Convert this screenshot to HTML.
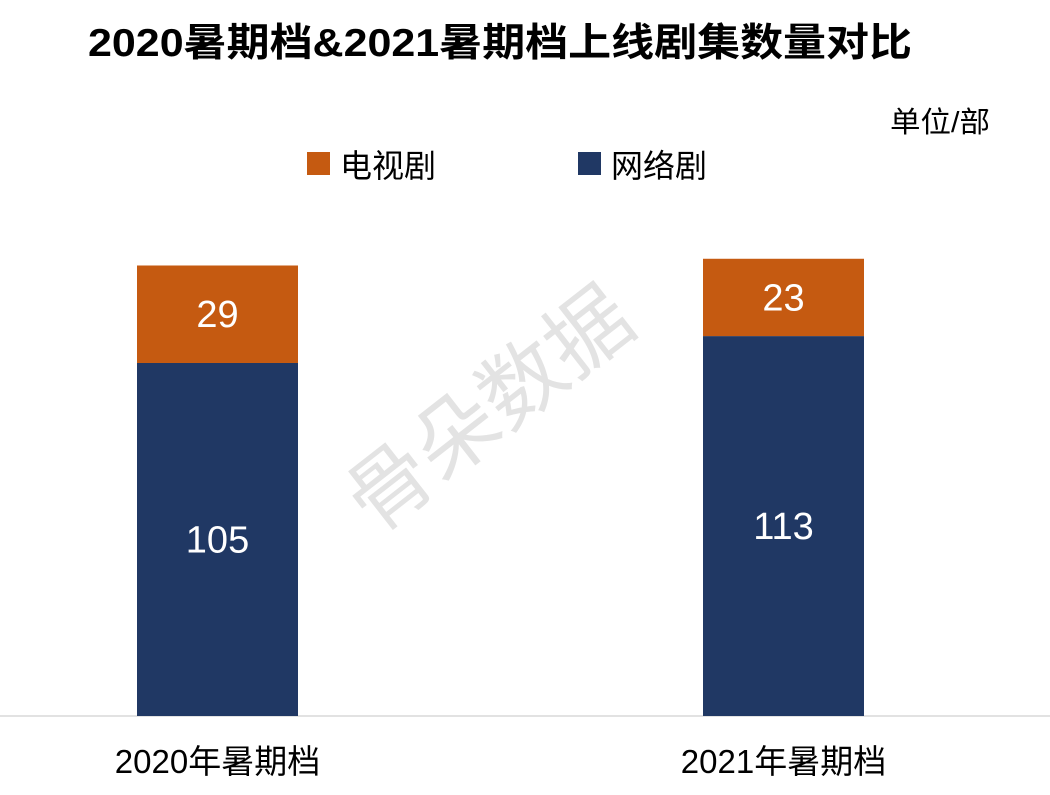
<!DOCTYPE html>
<html><head><meta charset="utf-8"><style>
body{margin:0;background:#fff}
svg{display:block;font-family:"Liberation Sans","Noto Sans CJK SC",sans-serif}
</style></head><body>
<svg id="chart" width="1050" height="795" viewBox="0 0 1050 795">
<rect width="1050" height="795" fill="#fff"/>
<text x="88" y="56" font-size="39" font-weight="bold" textLength="824" lengthAdjust="spacingAndGlyphs" fill="#000">2020暑期档&amp;2021暑期档上线剧集数量对比</text>
<text x="990" y="132" font-size="29" text-anchor="end" fill="#000" textLength="100" lengthAdjust="spacingAndGlyphs">单位/部</text>
<g>
<rect x="307" y="152" width="23" height="23" fill="#C55A11"/>
<text x="340" y="177" font-size="32" fill="#000">电视剧</text>
<rect x="578" y="152" width="23" height="23" fill="#203864"/>
<text x="611" y="177" font-size="32" fill="#000">网络剧</text>
</g>
<text x="490" y="438" font-size="84" fill="#e3e3e3" text-anchor="middle" transform="rotate(-38 490 410)">骨朵数据</text>
<line x1="0" y1="716" x2="1050" y2="716" stroke="#d9d9d9" stroke-width="1.5"/>
<g id="bars"></g>
</svg>
<script>
const categories=["2020年暑期档","2021年暑期档"];
const webValues=[105,113];
const tvValues=[29,23];
const svg=document.getElementById('bars');
const NS='http://www.w3.org/2000/svg';
const base=716, scale=3.362;
function y(v){return base-v*scale;}
function xc(i){return 217.5+i*566;}
const bw=161;
function mk(tag,attrs){const e=document.createElementNS(NS,tag);for(const k in attrs)e.setAttribute(k,attrs[k]);svg.appendChild(e);return e;}
categories.forEach((c,i)=>{
  const w=webValues[i], t=tvValues[i];
  const r1=mk('rect',{x:xc(i)-bw/2,y:y(w),width:bw,height:base-y(w),fill:'#203864'});
  
  
  const r2=mk('rect',{x:xc(i)-bw/2,y:y(w+t),width:bw,height:y(w)-y(w+t),fill:'#C55A11'});
  
  
  const l1=mk('text',{x:xc(i),y:(y(w)+base)/2+13,'font-size':38,fill:'#fff','text-anchor':'middle'});
  l1.textContent=w;
  
  
  const l2=mk('text',{x:xc(i),y:(y(w)+y(w+t))/2+13,'font-size':38,fill:'#fff','text-anchor':'middle'});
  l2.textContent=t;
  
  
  const cl=mk('text',{x:xc(i),y:773,'font-size':33,fill:'#000','text-anchor':'middle'});
  cl.textContent=c;
  
  
});
</script>
</body></html>
